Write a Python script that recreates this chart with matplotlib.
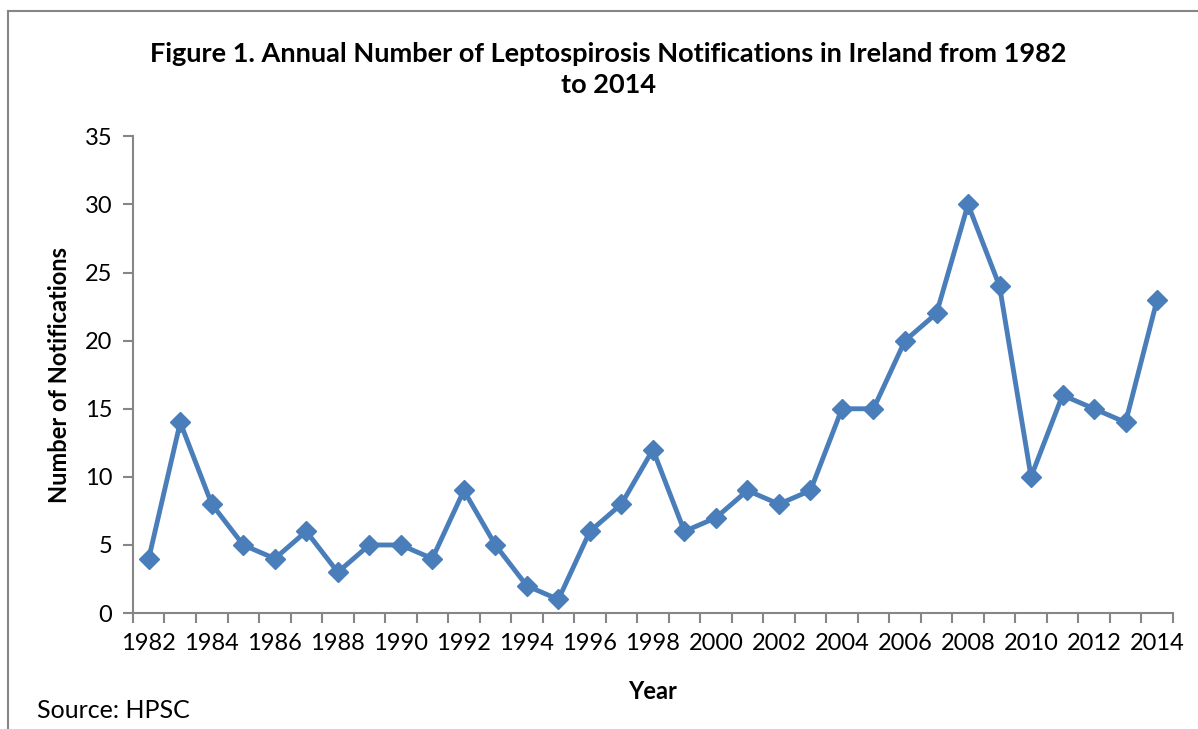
import matplotlib.pyplot as plt
from matplotlib.lines import Line2D
import numpy as np

# %% datos
years = list(range(1982, 2015))
notifications = [4, 14, 8, 5, 4, 6, 3, 5, 5, 4, 9, 5, 2, 1, 6, 8, 12, 6, 7, 9, 8, 9,
                 15, 15, 20, 22, 30, 24, 10, 16, 15, 14, 23]
y_ticks = [0, 5, 10, 15, 20, 25, 30, 35]

plt.rcParams['font.family'] = ['Lato', 'DejaVu Sans']
gray = '#868686'
blue = '#4A7EBB'

# %%
fig = plt.figure(figsize=(11.98, 7.29), dpi=100)
ax = fig.add_axes([0.111, 0.159, 0.868, 0.654])

x = np.arange(len(years))
ax.plot(x, notifications, color=blue, linewidth=3.5, marker='D', markersize=10,
        markeredgecolor=blue, markerfacecolor=blue, solid_joinstyle='round')

ax.set_xlim(-0.5, len(years) - 0.5)
ax.set_ylim(0, 35)
ax.set_yticks(y_ticks)
ax.set_yticklabels([str(v) for v in y_ticks], fontsize=17)

# ejes tipo categoria: marcas entre categorias, etiquetas cada 2 años
ax.set_xticks(np.arange(-0.5, len(years), 1.0))
ax.set_xticklabels([])
ax.set_xticks(x[::2], minor=True)
ax.set_xticklabels([str(y) for y in years[::2]], minor=True, fontsize=17)
ax.tick_params(axis='x', which='minor', length=0, pad=14)
ax.tick_params(axis='x', which='major', length=7, color=gray, width=1.5)
ax.tick_params(axis='y', length=7, color=gray, width=1.5, pad=8)

for s in ['top', 'right']:
    ax.spines[s].set_visible(False)
for s in ['left', 'bottom']:
    ax.spines[s].set_color(gray)
    ax.spines[s].set_linewidth(1.5)

ax.set_xlabel('Year', fontsize=17, fontweight='bold', labelpad=19)
ax.set_ylabel('Number of Notifications', fontsize=17, fontweight='bold', labelpad=10)

fig.text(0.508, 0.905, 'Figure 1. Annual Number of Leptospirosis Notifications in Ireland from 1982\nto 2014',
         ha='center', va='center', fontsize=19.5, fontweight='bold', linespacing=1.35)
fig.text(0.031, 0.026, 'Source: HPSC', fontsize=18, ha='left', va='center')

# marco del grafico (solo se ve arriba y a la izquierda)
fig.add_artist(Line2D([0.007, 0.007], [0.0, 0.985], color=gray, linewidth=1.5, transform=fig.transFigure))
fig.add_artist(Line2D([0.007, 1.0], [0.985, 0.985], color=gray, linewidth=1.5, transform=fig.transFigure))

fig.savefig('out.png', dpi=100)
